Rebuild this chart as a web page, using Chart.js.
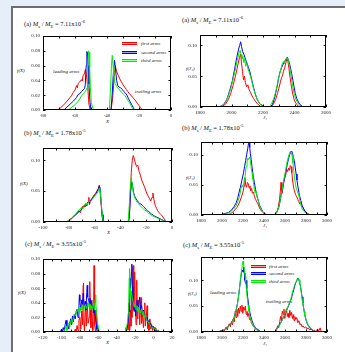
<!DOCTYPE html>
<html>
<head>
<meta charset="utf-8">
<script src="https://cdn.jsdelivr.net/npm/chart.js@4.4.1/dist/chart.umd.min.js"></script>
<style>
  html, body { margin: 0; padding: 0; }
  body { width: 345px; height: 352px; background: #e5eef9; position: relative; overflow: hidden;
         font-family: 'Liberation Serif', 'DejaVu Serif', serif; color: #111; }
  .sheet { position: absolute; left: 11px; top: 6px; width: 334px; height: 346px; background: #fff;
           border-left: 2px solid #6d6d6d; border-top: 2px solid #6d6d6d; }
  canvas { position: absolute; }
  .txt { position: absolute; white-space: nowrap; line-height: 1; }
  .title { font-size: 6.5px; }
  .lbl { font-size: 5px; font-style: italic; }
  .sw { position: absolute; width: 15px; height: 1px; }
  .sw.r { background: #ff9a9a; border-top: 1px solid #ff0000; border-bottom: 1px solid #ff0000; }
  .sw.b { background: #9a9aff; border-top: 1px solid #0000ff; border-bottom: 1px solid #0000ff; }
  .sw.g { background: #9aff9a; border-top: 1px solid #00ee00; border-bottom: 1px solid #00ee00; }
  sub, sup { font-size: 70%; line-height: 0; }
</style>
</head>
<body>
<div class="sheet"></div>

<!-- panel titles -->
<div class="txt title" style="left:24px;top:20.5px">(a) <i>M</i><sub>s</sub> / <i>M</i><sub>E</sub> = 7.11x10<sup>-6</sup></div>
<div class="txt title" style="left:182px;top:16.5px">(a) <i>M</i><sub>s</sub> / <i>M</i><sub>E</sub> = 7.11x10<sup>-6</sup></div>
<div class="txt title" style="left:24px;top:129.5px">(b) <i>M</i><sub>s</sub> / <i>M</i><sub>E</sub> = 1.78x10<sup>-5</sup></div>
<div class="txt title" style="left:182px;top:124.5px">(b) <i>M</i><sub>s</sub> / <i>M</i><sub>E</sub> = 1.78x10<sup>-5</sup></div>
<div class="txt title" style="left:25px;top:240.5px">(c) <i>M</i><sub>s</sub> / <i>M</i><sub>E</sub> = 3.55x10<sup>-5</sup></div>
<div class="txt title" style="left:183px;top:241.5px">(c) <i>M</i><sub>s</sub> / <i>M</i><sub>E</sub> = 3.55x10<sup>-5</sup></div>

<!-- axis labels -->
<div class="txt lbl" style="left:17px;top:67.5px">f(X)</div>
<div class="txt lbl" style="left:20px;top:180.5px">f(X)</div>
<div class="txt lbl" style="left:18px;top:289.5px">f(X)</div>
<div class="txt lbl" style="left:186px;top:65.5px">f(J₁)</div>
<div class="txt lbl" style="left:186px;top:174.5px">f(J₁)</div>
<div class="txt lbl" style="left:188px;top:290.5px">f(J₁)</div>
<div class="txt lbl" style="left:106px;top:119px">X</div>
<div class="txt lbl" style="left:107px;top:230px">X</div>
<div class="txt lbl" style="left:106px;top:340px">X</div>
<div class="txt lbl" style="left:263px;top:115px">J₁</div>
<div class="txt lbl" style="left:263px;top:223px">J₁</div>
<div class="txt lbl" style="left:263px;top:341px">J₁</div>

<!-- legends and notes -->
<div class="sw r" style="left:122px;top:42px"></div>
<div class="sw b" style="left:122px;top:50.5px"></div>
<div class="sw g" style="left:122px;top:59px"></div>
<div class="txt lbl" style="left:141px;top:41px">first arms</div>
<div class="txt lbl" style="left:141px;top:49.5px">second arms</div>
<div class="txt lbl" style="left:141px;top:58px">third arms</div>
<div class="txt lbl" style="left:53px;top:68.5px">leading arms</div>
<div class="txt lbl" style="left:135px;top:88.5px">trailing arms</div>

<div class="sw r" style="left:251px;top:265px"></div>
<div class="sw b" style="left:251px;top:272px"></div>
<div class="sw g" style="left:251px;top:280px"></div>
<div class="txt lbl" style="left:269px;top:264px">first arms</div>
<div class="txt lbl" style="left:269px;top:271px">second arms</div>
<div class="txt lbl" style="left:269px;top:279px">third arms</div>
<div class="txt lbl" style="left:210px;top:289.5px">leading arms</div>
<div class="txt lbl" style="left:266px;top:298.5px">trailing arms</div>

<script>
// ----------------------------------------------------
// DATA  ([x, f] pairs)
// ----------------------------------------------------
// (a) left: X distribution
const aLeftFirst = [[-80,0],[-71,0],[-69,0.003],[-67,0.007],[-65,0.012],[-63,0.017],[-62,0.020],[-61,0.024],[-60,0.027],[-59,0.033],[-58.5,0.030],[-58,0.036],[-57,0.038],[-56,0.041],[-55.5,0.039],[-55,0.046],[-54,0.050],[-53.5,0.055],[-53,0.050],[-52,0.030],[-51.3,0.008],[-50.5,0],[-37.5,0],[-36.5,0.015],[-35.5,0.045],[-34.8,0.060],[-34,0.052],[-33,0.047],[-32,0.042],[-31,0.038],[-30,0.034],[-29,0.031],[-28,0.028],[-27,0.025],[-26,0.022],[-25,0.020],[-24,0.017],[-23,0.015],[-22,0.012],[-21,0.009],[-20,0.006],[-19,0.003],[-18,0],[0,0]];
const aLeftSecond = [[-80,0],[-67,0],[-65,0.004],[-63,0.008],[-61,0.012],[-59,0.017],[-58,0.021],[-57,0.022],[-56,0.025],[-55,0.027],[-54,0.029],[-53.6,0.034],[-53,0.060],[-52.6,0.079],[-52.2,0.077],[-51.8,0.060],[-51.3,0.035],[-50.6,0.010],[-50,0],[-37.5,0],[-36.8,0.020],[-36,0.050],[-35.3,0.067],[-34.8,0.058],[-34,0.040],[-33.3,0.033],[-32.5,0.031],[-31.5,0.030],[-30.5,0.028],[-29.5,0.025],[-28.5,0.023],[-27.5,0.020],[-26.5,0.015],[-25.5,0.011],[-24.5,0.007],[-23.5,0.003],[-22.8,0],[0,0]];
const aLeftThird = [[-80,0],[-64.5,0],[-62.5,0.003],[-60,0.007],[-58,0.012],[-57,0.015],[-56,0.019],[-55,0.022],[-54,0.024],[-53,0.027],[-52.5,0.030],[-52,0.055],[-51.6,0.080],[-51.2,0.078],[-50.8,0.057],[-50.4,0.030],[-49.8,0.010],[-48.5,0],[-38.5,0],[-37.8,0.030],[-37.2,0.060],[-36.7,0.074],[-36.2,0.060],[-35.7,0.046],[-35,0.036],[-34,0.032],[-33,0.029],[-32,0.027],[-31,0.024],[-30,0.022],[-29,0.020],[-28,0.017],[-27,0.013],[-26,0.010],[-25,0.006],[-24,0.002],[-23.5,0],[0,0]];

// (a) right: J1 distribution
const aRightFirst = [[1800,0],[1930,0],[1960,0.004],[1980,0.012],[1995,0.022],[2010,0.035],[2025,0.050],[2040,0.068],[2050,0.080],[2058,0.086],[2064,0.070],[2070,0.058],[2076,0.044],[2082,0.050],[2088,0.040],[2096,0.033],[2104,0.036],[2112,0.028],[2120,0.024],[2130,0.018],[2140,0.014],[2150,0.010],[2165,0.005],[2185,0.001],[2200,0],[2250,0],[2265,0.004],[2280,0.012],[2292,0.022],[2300,0.030],[2310,0.040],[2318,0.048],[2325,0.052],[2330,0.058],[2338,0.064],[2345,0.072],[2352,0.078],[2358,0.074],[2365,0.062],[2372,0.048],[2380,0.034],[2390,0.020],[2400,0.010],[2415,0.004],[2430,0],[2600,0]];
const aRightSecond = [[1800,0],[1900,0],[1930,0.001],[1950,0.004],[1970,0.012],[1990,0.028],[2005,0.042],[2020,0.062],[2033,0.080],[2045,0.094],[2052,0.100],[2058,0.106],[2064,0.098],[2071,0.090],[2078,0.086],[2086,0.080],[2094,0.074],[2100,0.070],[2108,0.064],[2117,0.057],[2125,0.048],[2134,0.038],[2142,0.030],[2150,0.022],[2164,0.012],[2180,0.005],[2200,0.002],[2215,0],[2245,0],[2260,0.004],[2276,0.017],[2285,0.028],[2292,0.036],[2300,0.048],[2308,0.057],[2318,0.064],[2329,0.070],[2338,0.074],[2346,0.078],[2354,0.081],[2360,0.077],[2367,0.072],[2375,0.063],[2382,0.054],[2390,0.043],[2397,0.033],[2405,0.022],[2414,0.014],[2425,0.008],[2435,0.004],[2455,0],[2600,0]];
const aRightThird = [[1800,0],[1915,0],[1940,0.002],[1960,0.007],[1980,0.018],[1995,0.030],[2010,0.045],[2025,0.062],[2038,0.078],[2048,0.088],[2055,0.092],[2061,0.085],[2066,0.078],[2072,0.083],[2078,0.072],[2084,0.079],[2090,0.066],[2097,0.072],[2104,0.062],[2110,0.058],[2118,0.052],[2126,0.045],[2134,0.036],[2142,0.028],[2152,0.020],[2165,0.011],[2180,0.005],[2200,0.001],[2215,0],[2240,0],[2255,0.006],[2268,0.014],[2280,0.024],[2290,0.036],[2298,0.046],[2306,0.054],[2314,0.062],[2322,0.070],[2330,0.074],[2336,0.070],[2342,0.076],[2350,0.079],[2356,0.080],[2362,0.074],[2368,0.066],[2375,0.056],[2382,0.044],[2390,0.032],[2398,0.022],[2408,0.013],[2420,0.007],[2435,0.002],[2450,0],[2600,0]];

// (b) left
const bLeftFirst = [[-100,0],[-82,0],[-80,0.003],[-78,0.006],[-76,0.010],[-74,0.013],[-72,0.018],[-71,0.015],[-70,0.022],[-69,0.026],[-68,0.024],[-67,0.029],[-66,0.026],[-65,0.033],[-64.5,0.040],[-64,0.028],[-63,0.036],[-62,0.038],[-61,0.042],[-60,0.045],[-59,0.047],[-58,0.051],[-57,0.055],[-56.4,0.060],[-55.8,0.050],[-55,0.030],[-54.2,0.010],[-53.5,0],[-34,0],[-33,0.010],[-32.4,0.040],[-31.6,0.080],[-30.8,0.100],[-30,0.108],[-29.2,0.102],[-28.5,0.096],[-27.5,0.090],[-26.5,0.092],[-25.5,0.082],[-24.5,0.076],[-23.5,0.068],[-22.5,0.063],[-21.5,0.058],[-20.5,0.052],[-19.5,0.046],[-18.5,0.042],[-17.5,0.038],[-16.5,0.034],[-15.5,0.040],[-14.8,0.047],[-14,0.036],[-13,0.027],[-12,0.022],[-11,0.018],[-10,0.015],[-9,0.013],[-8,0.011],[-7,0.008],[-6,0.005],[-5,0.002],[-4,0],[0,0]];
const bLeftSecond = [[-100,0],[-81,0],[-79,0.003],[-77,0.007],[-75,0.011],[-73,0.015],[-71,0.019],[-69,0.023],[-68,0.027],[-67,0.025],[-66,0.030],[-65,0.032],[-64,0.031],[-63,0.035],[-62,0.038],[-61,0.040],[-60,0.043],[-59,0.046],[-58,0.050],[-57,0.054],[-56.4,0.058],[-55.8,0.056],[-55,0.034],[-54.2,0.012],[-53.5,0],[-33.5,0],[-32.8,0.020],[-32,0.050],[-31.2,0.065],[-30.5,0.058],[-29.8,0.048],[-29,0.042],[-28,0.038],[-27,0.035],[-26,0.032],[-25,0.030],[-24,0.029],[-23,0.027],[-22,0.025],[-21,0.023],[-20,0.020],[-19,0.018],[-18,0.017],[-17,0.015],[-16,0.013],[-15,0.012],[-14,0.010],[-12,0.008],[-10,0.006],[-8,0.004],[-6,0.002],[-4.5,0],[0,0]];
const bLeftThird = [[-100,0],[-82,0],[-80,0.002],[-78,0.006],[-76,0.010],[-74,0.015],[-72,0.020],[-70,0.024],[-69,0.021],[-68,0.027],[-67,0.030],[-66,0.028],[-65,0.031],[-64,0.034],[-63,0.033],[-62,0.036],[-61,0.039],[-60,0.042],[-59,0.044],[-58,0.047],[-57,0.051],[-56.3,0.055],[-55.6,0.050],[-54.8,0.030],[-54,0.010],[-53.2,0],[-34,0],[-33.2,0.025],[-32.4,0.055],[-31.6,0.072],[-30.8,0.060],[-30,0.048],[-29,0.040],[-28,0.036],[-27,0.032],[-26,0.030],[-25,0.027],[-24,0.025],[-23,0.023],[-22,0.021],[-21,0.019],[-20,0.018],[-19,0.016],[-18,0.014],[-17,0.013],[-16,0.011],[-15,0.010],[-13,0.008],[-11,0.006],[-9,0.004],[-7,0.002],[-5.5,0],[0,0]];

// (b) right
const bRightFirst = [[1800,0],[2040,0],[2080,0.002],[2110,0.006],[2140,0.012],[2165,0.020],[2185,0.030],[2200,0.038],[2210,0.048],[2218,0.062],[2226,0.050],[2234,0.046],[2242,0.054],[2250,0.052],[2258,0.045],[2266,0.048],[2274,0.040],[2282,0.044],[2290,0.036],[2300,0.038],[2310,0.030],[2320,0.026],[2330,0.022],[2340,0.019],[2350,0.015],[2362,0.010],[2375,0.007],[2390,0.004],[2410,0.001],[2430,0],[2500,0],[2520,0.004],[2535,0.012],[2548,0.026],[2556,0.040],[2562,0.054],[2570,0.036],[2578,0.042],[2588,0.054],[2596,0.060],[2606,0.066],[2616,0.076],[2625,0.072],[2634,0.078],[2642,0.074],[2650,0.082],[2658,0.080],[2665,0.070],[2672,0.058],[2680,0.048],[2690,0.040],[2700,0.034],[2712,0.030],[2722,0.026],[2732,0.022],[2742,0.018],[2752,0.022],[2760,0.016],[2772,0.012],[2785,0.008],[2800,0.005],[2820,0.002],[2840,0],[3000,0]];
const bRightSecond = [[1800,0],[1980,0],[2020,0.002],[2060,0.004],[2090,0.008],[2115,0.014],[2135,0.020],[2150,0.028],[2160,0.036],[2175,0.046],[2190,0.058],[2205,0.070],[2215,0.080],[2225,0.090],[2235,0.100],[2245,0.110],[2252,0.118],[2258,0.121],[2264,0.112],[2270,0.102],[2278,0.092],[2286,0.080],[2296,0.066],[2308,0.054],[2320,0.042],[2333,0.032],[2345,0.024],[2359,0.016],[2375,0.010],[2390,0.005],[2410,0.002],[2430,0],[2490,0],[2510,0.002],[2525,0.006],[2540,0.012],[2552,0.022],[2562,0.032],[2575,0.044],[2587,0.054],[2600,0.066],[2612,0.076],[2622,0.084],[2632,0.092],[2644,0.100],[2655,0.104],[2664,0.106],[2672,0.102],[2680,0.096],[2689,0.090],[2698,0.078],[2706,0.068],[2714,0.058],[2722,0.048],[2732,0.038],[2740,0.031],[2750,0.024],[2762,0.016],[2778,0.010],[2794,0.005],[2815,0.002],[2840,0],[3000,0]];
const bRightThird = [[1800,0],[2000,0],[2040,0.002],[2080,0.005],[2110,0.010],[2135,0.016],[2155,0.024],[2170,0.034],[2182,0.044],[2192,0.050],[2200,0.046],[2210,0.056],[2220,0.064],[2230,0.080],[2238,0.088],[2246,0.094],[2254,0.092],[2262,0.096],[2270,0.090],[2278,0.078],[2286,0.070],[2294,0.060],[2302,0.050],[2310,0.040],[2318,0.036],[2326,0.038],[2334,0.030],[2344,0.024],[2354,0.018],[2366,0.012],[2380,0.007],[2400,0.003],[2425,0.001],[2445,0],[2495,0],[2515,0.003],[2530,0.008],[2545,0.016],[2556,0.026],[2566,0.036],[2578,0.048],[2590,0.060],[2602,0.070],[2612,0.080],[2622,0.090],[2632,0.096],[2642,0.102],[2652,0.106],[2660,0.104],[2668,0.098],[2676,0.086],[2684,0.072],[2692,0.060],[2700,0.050],[2708,0.044],[2716,0.040],[2724,0.036],[2732,0.032],[2742,0.024],[2752,0.016],[2764,0.010],[2780,0.006],[2800,0.003],[2820,0.001],[2840,0],[3000,0]];

// (c) left (noisy)
const cLeftFirst = [[-120,0],[-86,0],[-85,0.004],[-84,0],[-83,0.009],[-82,0.002],[-81,0.016],[-80,0.020],[-79,0.004],[-78,0.029],[-77,0.010],[-76.5,0.064],[-76,0.067],[-75.5,0.010],[-75,0.002],[-74,0.030],[-73.5,0.036],[-73,0.008],[-72,0.040],[-71,0.012],[-70,0.020],[-69.5,0.062],[-69,0.069],[-68.5,0.030],[-68,0.006],[-67,0.044],[-66.5,0.014],[-66,0.002],[-65,0.040],[-64.6,0.091],[-64.2,0.088],[-63.8,0.010],[-63,0.001],[-62.5,0.030],[-62,0.020],[-61,0.008],[-60,0.002],[-59,0],[-31,0],[-30,0.006],[-29,0.002],[-28,0.012],[-27.5,0.003],[-27,0.040],[-26.5,0.010],[-26,0.002],[-25,0.030],[-24.5,0.008],[-24,0.056],[-23.5,0.020],[-22.5,0.089],[-22,0.091],[-21.5,0.030],[-21,0.050],[-20.5,0.082],[-20,0.040],[-19,0.010],[-18.5,0.071],[-18,0.064],[-17.5,0.018],[-17,0.030],[-16,0.044],[-15,0.010],[-14,0.035],[-13.5,0.047],[-13,0.012],[-12,0.026],[-11,0.006],[-10,0.030],[-9.5,0.040],[-9,0.008],[-8,0.020],[-7,0.036],[-6.5,0.005],[-6,0.015],[-5,0.002],[-4,0.018],[-3,0.004],[-2,0.010],[-1,0.002],[0,0.008],[1,0.001],[2,0.006],[3,0.004],[4,0.001],[5,0.003],[6,0],[20,0]];
const cLeftSecond = [[-120,0],[-101,0],[-100,0.004],[-99,0.001],[-98,0.006],[-97,0.002],[-96,0.010],[-95,0.016],[-94,0.006],[-93,0.010],[-92,0.004],[-91,0.012],[-90,0.018],[-89,0.010],[-88,0.022],[-87,0.014],[-86,0.024],[-85,0.018],[-84,0.028],[-83,0.031],[-82,0.020],[-81,0.036],[-80.5,0.051],[-80,0.042],[-79,0.030],[-78,0.044],[-77,0.038],[-76.4,0.053],[-76,0.046],[-75,0.036],[-74,0.042],[-73.5,0.030],[-72.5,0.054],[-72,0.064],[-71.5,0.048],[-70.5,0.044],[-70,0.040],[-69,0.046],[-68,0.038],[-67.3,0.042],[-66.5,0.032],[-65.5,0.036],[-64.7,0.026],[-64,0.030],[-63,0.018],[-62,0.010],[-61.5,0.004],[-61,0],[-30,0],[-29,0.004],[-28,0.010],[-27,0.022],[-26.5,0.036],[-26,0.028],[-25.5,0.073],[-25,0.060],[-24,0.082],[-23.6,0.093],[-23,0.062],[-22.5,0.046],[-22,0.034],[-21,0.028],[-20,0.036],[-19.5,0.022],[-19,0.030],[-18,0.044],[-17,0.032],[-16,0.038],[-15,0.048],[-14,0.030],[-13,0.036],[-12,0.026],[-11,0.030],[-10,0.022],[-9,0.024],[-8,0.016],[-7,0.020],[-6,0.012],[-5,0.016],[-4,0.010],[-3,0.012],[-2,0.006],[-1,0.008],[0,0.004],[1,0.006],[2,0.002],[3,0.003],[4,0],[20,0]];
const cLeftThird = [[-120,0],[-97,0],[-96,0.004],[-95,0.008],[-94,0.002],[-93,0.010],[-92,0.012],[-91,0.006],[-90,0.014],[-89,0.018],[-88,0.012],[-87,0.020],[-86,0.024],[-85,0.022],[-84,0.026],[-83,0.030],[-82,0.028],[-81,0.033],[-80,0.026],[-79,0.034],[-78,0.030],[-77,0.036],[-76,0.028],[-75,0.034],[-74,0.038],[-73,0.032],[-72,0.036],[-71,0.040],[-70,0.034],[-69,0.038],[-68,0.030],[-67,0.036],[-66,0.032],[-65,0.040],[-64,0.030],[-63.5,0.044],[-63,0.051],[-62.5,0.040],[-62,0.030],[-61,0.016],[-60,0.006],[-59,0.002],[-58,0],[-30,0],[-29.5,0.006],[-28.5,0.012],[-27.5,0.026],[-27,0.040],[-26.5,0.074],[-26,0.087],[-25.5,0.060],[-25,0.048],[-24,0.056],[-23,0.046],[-22,0.040],[-21,0.034],[-20,0.038],[-19,0.030],[-18,0.036],[-17,0.028],[-16,0.034],[-15,0.030],[-14,0.026],[-13,0.032],[-12,0.024],[-11,0.028],[-10,0.020],[-9,0.024],[-8,0.018],[-7,0.016],[-6,0.014],[-5,0.012],[-4,0.010],[-3,0.008],[-2,0.006],[-1,0.007],[0,0.004],[1,0.005],[2,0.003],[3,0.004],[4,0.002],[5,0.001],[6,0.002],[7,0],[20,0]];

// (c) right
const cRightFirst = [[1800,0],[1980,0],[1990,0.003],[2000,0],[2020,0.002],[2030,0.006],[2040,0.010],[2050,0.004],[2060,0.012],[2070,0.016],[2080,0.010],[2090,0.020],[2100,0.014],[2110,0.026],[2118,0.020],[2126,0.040],[2134,0.028],[2142,0.044],[2150,0.030],[2158,0.046],[2166,0.036],[2174,0.050],[2182,0.040],[2190,0.052],[2198,0.036],[2206,0.048],[2214,0.042],[2222,0.050],[2230,0.034],[2238,0.040],[2246,0.030],[2254,0.036],[2262,0.024],[2270,0.026],[2280,0.018],[2290,0.014],[2300,0.010],[2312,0.008],[2325,0.004],[2340,0.006],[2355,0.002],[2370,0],[2510,0],[2520,0.006],[2530,0.012],[2540,0.008],[2550,0.020],[2558,0.030],[2566,0.022],[2574,0.040],[2582,0.034],[2590,0.044],[2598,0.026],[2606,0.038],[2614,0.045],[2622,0.030],[2630,0.036],[2638,0.028],[2646,0.042],[2654,0.032],[2662,0.038],[2670,0.026],[2678,0.034],[2686,0.022],[2694,0.030],[2702,0.024],[2712,0.028],[2722,0.018],[2732,0.022],[2742,0.014],[2752,0.016],[2762,0.010],[2772,0.012],[2785,0.008],[2798,0.010],[2810,0.006],[2822,0.008],[2835,0.004],[2850,0.006],[2865,0.002],[2880,0.004],[2895,0],[2910,0.006],[2920,0.002],[2935,0.008],[2945,0],[3000,0]];
const cRightSecond = [[1800,0],[1960,0],[1990,0.002],[2020,0.004],[2045,0.008],[2065,0.012],[2085,0.016],[2100,0.022],[2115,0.028],[2127,0.036],[2138,0.046],[2149,0.057],[2158,0.070],[2168,0.086],[2176,0.100],[2184,0.112],[2192,0.120],[2200,0.116],[2206,0.126],[2212,0.114],[2218,0.100],[2224,0.094],[2230,0.100],[2236,0.084],[2244,0.068],[2254,0.052],[2263,0.040],[2274,0.030],[2286,0.022],[2300,0.014],[2317,0.009],[2335,0.004],[2355,0.002],[2375,0],[2500,0],[2515,0.003],[2530,0.008],[2545,0.013],[2560,0.018],[2575,0.024],[2587,0.030],[2600,0.034],[2612,0.040],[2624,0.046],[2636,0.052],[2648,0.058],[2660,0.064],[2672,0.074],[2684,0.082],[2694,0.090],[2704,0.096],[2714,0.100],[2722,0.104],[2730,0.103],[2738,0.096],[2746,0.090],[2754,0.080],[2762,0.068],[2770,0.056],[2778,0.046],[2786,0.036],[2794,0.028],[2805,0.020],[2816,0.014],[2830,0.010],[2845,0.006],[2860,0.004],[2880,0.002],[2900,0],[3000,0]];
const cRightThird = [[1800,0],[1970,0],[2000,0.002],[2030,0.006],[2055,0.010],[2075,0.014],[2095,0.019],[2112,0.026],[2127,0.035],[2140,0.046],[2150,0.058],[2160,0.072],[2168,0.088],[2176,0.104],[2184,0.116],[2192,0.128],[2200,0.137],[2206,0.130],[2213,0.121],[2220,0.108],[2226,0.098],[2232,0.084],[2240,0.066],[2248,0.052],[2256,0.040],[2266,0.030],[2278,0.022],[2290,0.015],[2305,0.010],[2320,0.006],[2340,0.003],[2360,0.001],[2380,0],[2495,0],[2510,0.002],[2525,0.006],[2540,0.011],[2556,0.016],[2570,0.022],[2584,0.028],[2598,0.034],[2610,0.040],[2622,0.046],[2634,0.052],[2646,0.058],[2658,0.066],[2668,0.074],[2678,0.082],[2688,0.088],[2698,0.094],[2708,0.098],[2718,0.102],[2726,0.104],[2734,0.100],[2742,0.094],[2750,0.084],[2758,0.072],[2766,0.060],[2774,0.050],[2782,0.040],[2790,0.032],[2800,0.024],[2812,0.018],[2825,0.012],[2840,0.008],[2858,0.005],[2878,0.002],[2895,0],[3000,0]];

// tick labels
const xTicksA = [-80, -60, -40, -20, 0];
const xTicksB = [-100, -80, -60, -40, -20, 0];
const xTicksC = [-120, -100, -80, -60, -40, -20, 0, 20];
const xTicksJa = [1800, 2000, 2200, 2400, 2600];
const xTicksJ = [1800, 2000, 2200, 2400, 2600, 2800, 3000];
const yTicksFine = [0, 0.02, 0.04, 0.06, 0.08, 0.10];
const yTicksCoarse = [0, 0.05, 0.10];

// ----------------------------------------------------
// CHART SETUP
// ----------------------------------------------------
Chart.defaults.font.family = "'Liberation Serif', 'DejaVu Serif', serif";
Chart.defaults.font.size = 5;
Chart.defaults.color = '#222';

const RED = '#ff0000', BLUE = '#0000ff', GREEN = '#00ee00';
const PAD_L = 32, PAD_T = 4, PAD_R = 8, PAD_B = 14;

// box around the plot + inward tick marks on all four sides
const frameTicks = {
    id: 'frameTicks',
    afterDatasetsDraw(chart, args, opts) {
        const { ctx, chartArea: a, scales: { x, y } } = chart;
        ctx.save();
        ctx.strokeStyle = '#000';
        ctx.lineWidth = 1;
        ctx.strokeRect(a.left + 0.5, a.top + 0.5, a.right - a.left - 1, a.bottom - a.top - 1);
        ctx.beginPath();
        opts.xMarks.forEach(v => {
            const px = Math.round(x.getPixelForValue(v)) + 0.5;
            ctx.moveTo(px, a.bottom); ctx.lineTo(px, a.bottom - 2.5);
            ctx.moveTo(px, a.top); ctx.lineTo(px, a.top + 2.5);
        });
        opts.yMarks.forEach(v => {
            const py = Math.round(y.getPixelForValue(v)) + 0.5;
            ctx.moveTo(a.left, py); ctx.lineTo(a.left + 2.5, py);
            ctx.moveTo(a.right, py); ctx.lineTo(a.right - 2.5, py);
        });
        ctx.stroke();
        ctx.restore();
    }
};

function toPts(pairs) {
    return pairs.map(([x, y]) => ({ x, y }));
}

function halfSteps(ticks) {
    const out = [];
    ticks.forEach((t, i) => {
        out.push(t);
        if (i < ticks.length - 1) out.push((t + ticks[i + 1]) / 2);
    });
    return out;
}

function makePanel(p) {
    const cv = document.createElement('canvas');
    cv.width = p.w + PAD_L + PAD_R;
    cv.height = p.h + PAD_T + PAD_B;
    cv.style.left = (p.x - PAD_L) + 'px';
    cv.style.top = (p.y - PAD_T) + 'px';
    document.body.appendChild(cv);

    const line = (data, color, order) => ({
        data: toPts(data), borderColor: color, borderWidth: 1, order,
        pointRadius: 0, fill: false, tension: 0
    });

    new Chart(cv.getContext('2d'), {
        type: 'line',
        data: { datasets: [line(p.series[0], RED, 3), line(p.series[1], BLUE, 2), line(p.series[2], GREEN, 1)] },
        options: {
            responsive: false, animation: false, devicePixelRatio: 1,
            layout: { padding: { left: 0, top: PAD_T, right: PAD_R, bottom: 0 } },
            plugins: {
                legend: { display: false }, tooltip: { enabled: false },
                frameTicks: { xMarks: halfSteps(p.xTicks), yMarks: p.yTicks }
            },
            scales: {
                x: {
                    type: 'linear', min: p.xTicks[0], max: p.xTicks[p.xTicks.length - 1],
                    afterBuildTicks: s => { s.ticks = p.xTicks.map(v => ({ value: v })); },
                    afterFit: s => { s.height = PAD_B; },
                    grid: { display: false, drawTicks: false }, border: { display: false },
                    ticks: { autoSkip: false, maxRotation: 0, padding: 3, callback: v => String(v) }
                },
                y: {
                    min: 0, max: p.yMax,
                    afterBuildTicks: s => { s.ticks = p.yTicks.map(v => ({ value: v })); },
                    afterFit: s => { s.width = PAD_L; },
                    grid: { display: false, drawTicks: false }, border: { display: false },
                    ticks: { autoSkip: false, padding: 3, callback: v => v.toFixed(2) }
                }
            }
        },
        plugins: [frameTicks]
    });
}

makePanel({ x: 43, y: 34, w: 128, h: 76, xTicks: xTicksA, yTicks: yTicksFine, yMax: 0.10, series: [aLeftFirst, aLeftSecond, aLeftThird] });
makePanel({ x: 200, y: 33, w: 126, h: 74, xTicks: xTicksJa, yTicks: yTicksCoarse, yMax: 0.117, series: [aRightFirst, aRightSecond, aRightThird] });
makePanel({ x: 43, y: 146, w: 129, h: 76, xTicks: xTicksB, yTicks: yTicksCoarse, yMax: 0.12, series: [bLeftFirst, bLeftSecond, bLeftThird] });
makePanel({ x: 201, y: 140, w: 126, h: 75, xTicks: xTicksJ, yTicks: yTicksCoarse, yMax: 0.121, series: [bRightFirst, bRightSecond, bRightThird] });
makePanel({ x: 43, y: 257, w: 129, h: 75, xTicks: xTicksC, yTicks: yTicksFine, yMax: 0.10, series: [cLeftFirst, cLeftSecond, cLeftThird] });
makePanel({ x: 201, y: 255, w: 126, h: 77, xTicks: xTicksJ, yTicks: yTicksCoarse, yMax: 0.145, series: [cRightFirst, cRightSecond, cRightThird] });
</script>
</body>
</html>
